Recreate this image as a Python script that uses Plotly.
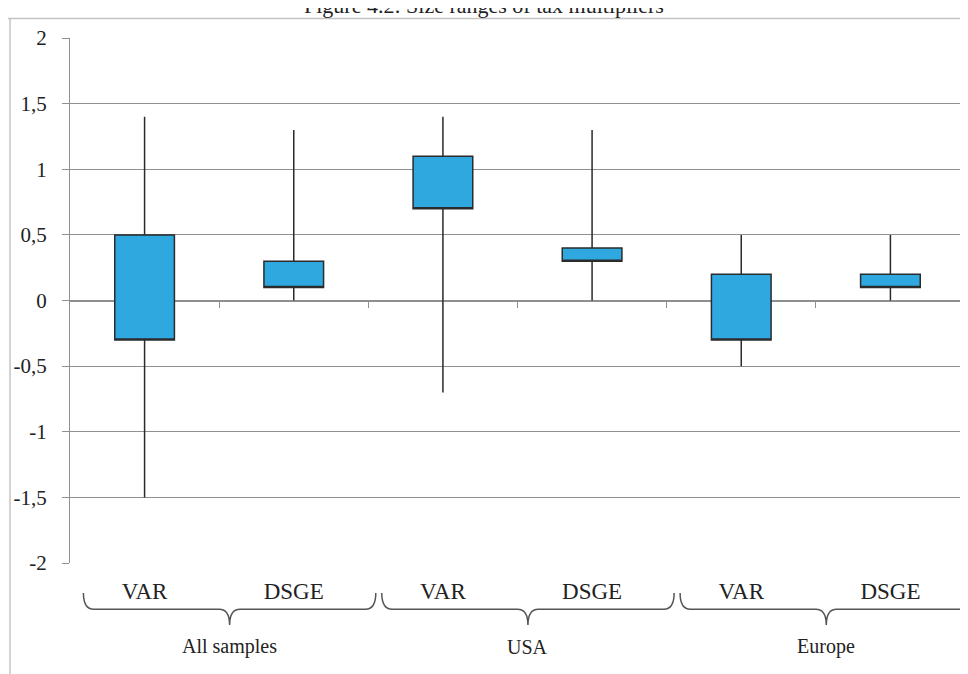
import plotly.graph_objects as go

# ---- data ----
categories = ["VAR", "DSGE", "VAR", "DSGE", "VAR", "DSGE"]
groups = ["All samples", "USA", "Europe"]
box_low = [-0.3, 0.1, 0.7, 0.3, -0.3, 0.1]
box_high = [0.5, 0.3, 1.1, 0.4, 0.2, 0.2]
whisk_low = [-1.5, 0.0, -0.7, 0.0, -0.5, 0.0]
whisk_high = [1.4, 1.3, 1.4, 1.3, 0.5, 0.5]
y_ticks = [-2, -1.5, -1, -0.5, 0, 0.5, 1, 1.5, 2]
y_ticklabels = ["-2", "-1,5", "-1", "-0,5", "0", "0,5", "1", "1,5", "2"]
title = "Figure 4.2: Size ranges of tax multipliers"

FONT = "Liberation Serif"
GRID = "#8f8f8f"
positions = list(range(len(categories)))

fig = go.Figure()
fig.add_trace(go.Box(
    x=positions, q1=box_low, median=box_low, q3=box_high,
    lowerfence=whisk_low, upperfence=whisk_high,
    width=0.4, whiskerwidth=0,
    fillcolor="#2ea8df", line=dict(color="#2b2b2b", width=1.5),
    showlegend=False, hoverinfo="skip",
))
# invisible helper trace for the zero-crossing category axis
fig.add_trace(go.Scatter(x=[0], y=[0], xaxis="x2", mode="none",
                         showlegend=False, hoverinfo="skip"))

boundaries = [p + 0.5 for p in positions]

shapes = []
# braces under each group
n_per = len(categories) // len(groups)
for g in range(len(groups)):
    x0 = g * n_per - 0.5 + 0.09
    x1 = g * n_per + n_per - 0.5 + 0.05
    tip = (x0 + x1) / 2
    yt, yh, yp = -0.057, -0.088, -0.118
    d = 0.07
    path = (f"M {x0},{yt} Q {x0},{yh} {x0 + d},{yh} L {tip - d},{yh} "
            f"Q {tip},{yh} {tip},{yp} Q {tip},{yh} {tip + d},{yh} "
            f"L {x1 - d},{yh} Q {x1},{yh} {x1},{yt}")
    shapes.append(dict(type="path", path=path, xref="x", yref="paper",
                       line=dict(color="#555555", width=1.5)))
# outer frame lines (top and left)
shapes.append(dict(type="line", xref="paper", yref="paper", x0=-0.072, x1=1.02,
                   y0=1.037, y1=1.037, line=dict(color="#c4c4c4", width=1.5)))
shapes.append(dict(type="line", xref="paper", yref="paper", x0=-0.067, x1=-0.067,
                   y0=1.037, y1=-0.22, line=dict(color="#c4c4c4", width=1.5)))

annotations = []
for g, name in enumerate(groups):
    cx = g * n_per + (n_per - 1) / 2 + 0.07
    annotations.append(dict(x=cx, y=-0.185, xref="x", yref="paper", text=name,
                            showarrow=False, font=dict(family=FONT, size=20, color="#222")))
annotations.append(dict(x=0.463, y=1.035, xref="paper", yref="paper", yanchor="bottom",
                        text=title, showarrow=False,
                        font=dict(family=FONT, size=22, color="#222")))

fig.update_layout(
    width=960, height=666,
    margin=dict(l=62, r=3, t=30, b=111),
    paper_bgcolor="white", plot_bgcolor="white",
    shapes=shapes, annotations=annotations,
    xaxis=dict(range=[-0.5, len(categories) - 0.5], tickmode="array",
               tickvals=positions, ticktext=categories,
               ticks="outside", ticklen=7, tickcolor="rgba(0,0,0,0)",
               showgrid=False, zeroline=False, showline=False,
               tickfont=dict(family=FONT, size=23, color="#222")),
    xaxis2=dict(overlaying="x", anchor="free", position=0.5,
                range=[-0.5, len(categories) - 0.5], tickmode="array",
                tickvals=boundaries, ticks="outside", ticklen=6, tickcolor=GRID,
                showticklabels=False, showgrid=False, zeroline=False,
                showline=True, linecolor=GRID, linewidth=1.3, layer="below traces"),
    yaxis=dict(range=[-2, 2], tickmode="array", tickvals=y_ticks, ticktext=y_ticklabels,
               ticks="outside", ticklen=7, tickcolor=GRID, tickwidth=1.3,
               showgrid=True, gridcolor=GRID, gridwidth=1.3, zeroline=False,
               showline=True, linecolor=GRID, linewidth=1.3,
               ticklabelstandoff=11,
               tickfont=dict(family=FONT, size=21, color="#222")),
)

fig.write_html("out.html")
